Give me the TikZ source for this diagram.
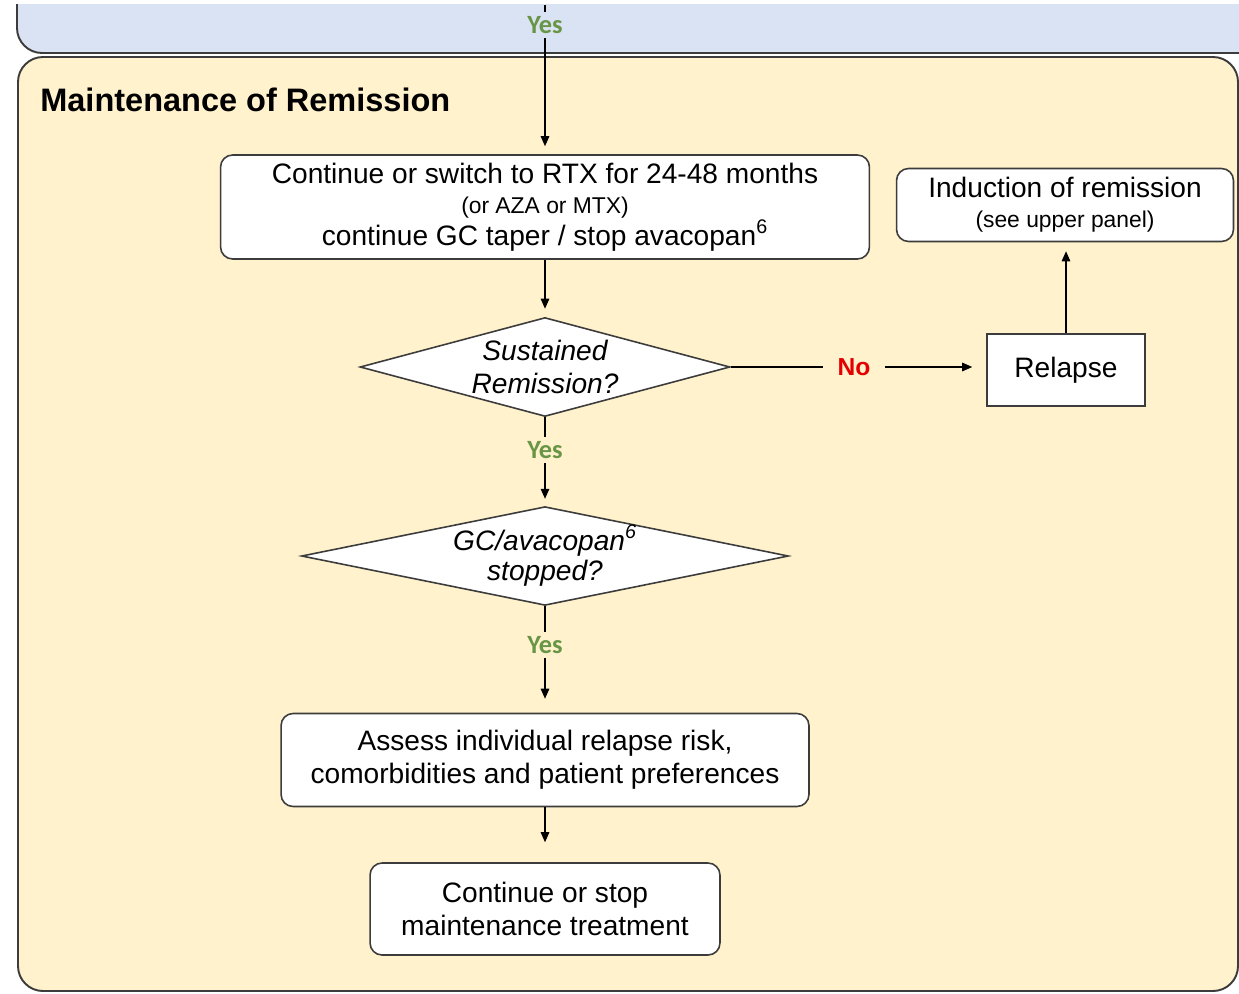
\documentclass[tikz,border=0pt]{standalone}
\usepackage{fontspec}
\setmainfont{Liberation Sans}
\newfontfamily\yesfont{Carlito}
\usetikzlibrary{shapes.geometric,arrows.meta}
\definecolor{panelblue}{RGB}{218,227,243}
\definecolor{panelbeige}{RGB}{255,242,204}
\definecolor{edgegray}{RGB}{60,60,60}
\definecolor{yesgreen}{RGB}{104,150,70}
\definecolor{nored}{RGB}{228,0,0}
\tikzset{
  panel/.style={draw=edgegray, line width=1.1pt, rounded corners=0.5cm},
  rbox/.style={draw=edgegray, line width=0.9pt, fill=white, rounded corners=0.24cm, align=center, inner sep=0pt,
    font=\fontsize{16}{18.7}\selectfont},
  sbox/.style={draw=edgegray, line width=0.9pt, fill=white, align=center, inner sep=0pt,
    font=\fontsize{16}{18.7}\selectfont},
  decision/.style={diamond, draw=edgegray, line width=0.9pt, fill=white, align=center, inner sep=0pt,
    font=\fontsize{16}{18.7}\selectfont\itshape},
  titletext/.style={font=\fontsize{18.5}{22}\selectfont\bfseries, inner sep=0pt},
  yeslabel/.style={font=\fontsize{15}{17}\selectfont\yesfont\bfseries, text=yesgreen, inner sep=2.5pt},
  nolabel/.style={font=\fontsize{14}{16}\selectfont\bfseries, text=nored, inner xsep=8pt, inner ysep=2pt},
  conn/.style={draw=black, line width=0.75pt},
  arr/.style={conn, -{Triangle[length=0.2cm,width=0.17cm]}},
}
\begin{document}
\begin{tikzpicture}[x=0.02cm,y=-0.02cm]
\useasboundingbox (0,0) rectangle (1239,993);
\fill[white] (0,0) rectangle (1239,993);
\begin{scope}
  \clip (0,5) rectangle (1239,993);
  \draw[panel, fill=panelblue] (17,-60) rectangle (1290,53);
  \draw[panel, fill=panelbeige] (18,57) rectangle (1238,991);
\end{scope}

\node[titletext, anchor=west] (title) at (40,100) {Maintenance of Remission};

\coordinate (topin) at (545,5);
\node[yeslabel] (yes1) at (545,25) {Yes};

\node[rbox, minimum width=12.98cm, minimum height=2.08cm, font=\fontsize{16}{17}\selectfont] (b1) at (545,207)
  {Continue or switch to RTX for 24-48 months\\
   {\fontsize{13}{17}\selectfont (or AZA or MTX)}\\[1pt]
   continue GC taper / stop avacopan\textsuperscript{6}};

\node[rbox, minimum width=6.74cm, minimum height=1.46cm, font=\fontsize{16}{17}\selectfont] (ind) at (1065,205)
  {Induction of remission\\
   {\fontsize{13}{17}\selectfont (see upper panel)}};

\node[decision, aspect=3.74, minimum width=7.4cm, minimum height=1.98cm] (d1) at (545,367)
  {Sustained\\Remission?};

\node[nolabel] (no) at (854,367) {No};

\node[sbox, minimum width=3.16cm, minimum height=1.44cm] (rel) at (1066,370) {Relapse};

\node[yeslabel] (yes2) at (545,450) {Yes};

\node[decision, aspect=4.93, minimum width=9.66cm, minimum height=1.96cm, font=\fontsize{16}{17.6}\selectfont\itshape] (d2) at (545,556)
  {GC/avacopan\textsuperscript{6}\\stopped?};

\node[yeslabel] (yes3) at (545,645) {Yes};

\node[rbox, minimum width=10.56cm, minimum height=1.86cm] (b3) at (545,760)
  {Assess individual relapse risk,\\comorbidities and patient preferences};

\node[rbox, minimum width=7.0cm, minimum height=1.84cm] (b4) at (545,909)
  {Continue or stop\\maintenance treatment};

\draw[conn] (topin) -- (yes1.north);
\draw[arr, shorten >=0.16cm] (yes1.south) -- (b1.north);
\draw[arr, shorten >=0.16cm] (b1.south) -- (d1.north);
\draw[conn] (d1.east) -- (no.west);
\draw[arr, shorten >=0.28cm] (no.east) -- (rel.west |- no.east);
\draw[arr, shorten >=0.18cm] (rel.north) -- (ind.south -| rel.north);
\draw[conn] (d1.south) -- (yes2.north);
\draw[arr, shorten >=0.14cm] (yes2.south) -- (d2.north);
\draw[conn] (d2.south) -- (yes3.north);
\draw[arr, shorten >=0.28cm] (yes3.south) -- (b3.north);
\draw[arr, shorten >=0.4cm] (b3.south) -- (b4.north);
\end{tikzpicture}
\end{document}
